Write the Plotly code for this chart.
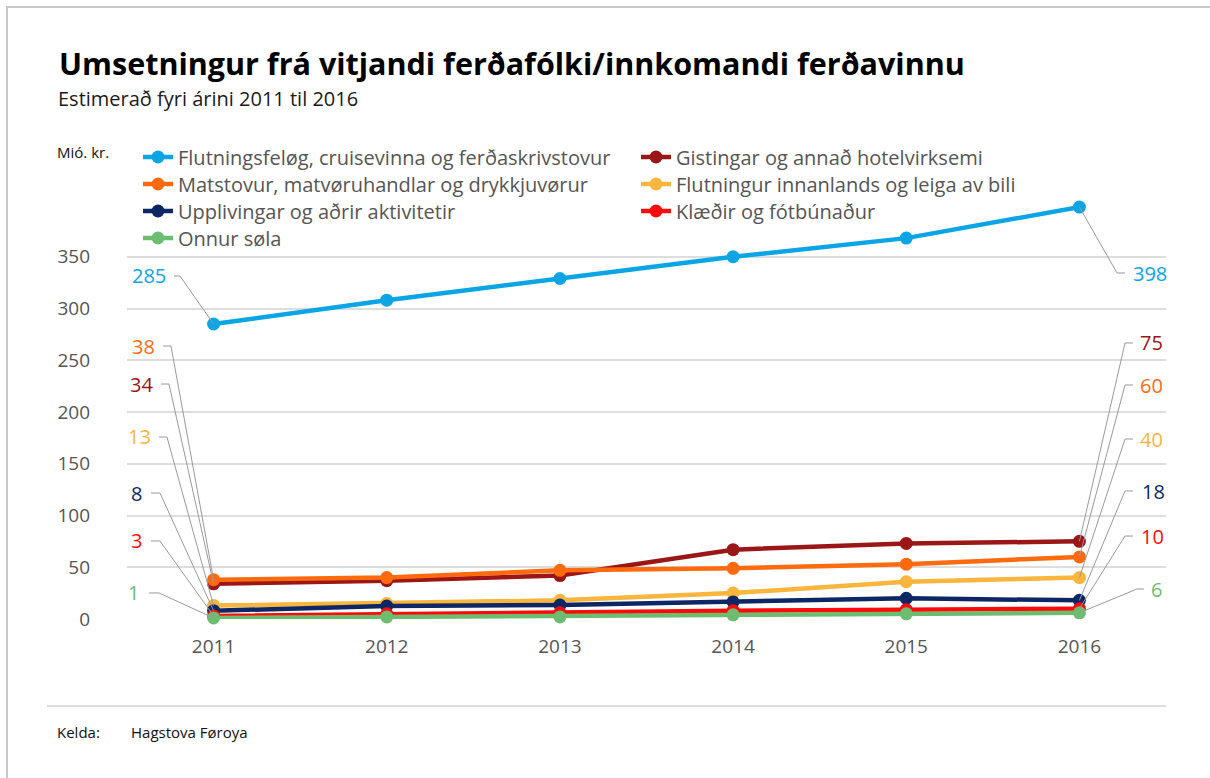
import plotly.graph_objects as go

# ---------------- data ----------------
years = [2011, 2012, 2013, 2014, 2015, 2016]

series_names = [
    "Flutningsfeløg, cruisevinna og ferðaskrivstovur",
    "Gistingar og annað hotelvirksemi",
    "Matstovur, matvøruhandlar og drykkjuvørur",
    "Flutningur innanlands og leiga av bili",
    "Upplivingar og aðrir aktivitetir",
    "Klæðir og fótbúnaður",
    "Onnur søla",
]

flutningsfelog = [285, 308, 329, 350, 368, 398]
gistingar = [34, 37, 42, 67, 73, 75]
matstovur = [38, 40, 47, 49, 53, 60]
flutningur_innanlands = [13, 15, 18, 25, 36, 40]
upplivingar = [8, 12.5, 13.5, 16.5, 20, 18]
klaedir = [3, 5, 6, 8, 9, 10]
onnur_sola = [1, 2, 2, 4, 5, 6]

series_values = [flutningsfelog, gistingar, matstovur, flutningur_innanlands,
                 upplivingar, klaedir, onnur_sola]

y_ticks = [0, 50, 100, 150, 200, 250, 300, 350]
x_ticks = years

title_text = "Umsetningur frá vitjandi ferðafólki/innkomandi ferðavinnu"
subtitle_text = "Estimerað fyri árini 2011 til 2016"
unit_text = "Mió. kr."
source_label = "Kelda:"
source_text = "Hagstova Føroya"

# ---------------- style ----------------
colors = ["#0ba5e6", "#9b1616", "#ff6a0f", "#f9b53c", "#0d2765", "#ff0a0a", "#6cbd70"]
legend_rows = ["legend", "legend", "legend2", "legend2", "legend3", "legend3", "legend4"]
legend_row_y = {"legend": 157, "legend2": 184, "legend3": 211, "legend4": 238}
FONT = "Open Sans"

W, H = 1210, 778
ML, MR, MT, MB = 127, 44, 205, 159
X_RANGE = [2010.5, 2016.5]
Y_RANGE = [0, 400]
PW = W - ML - MR
PH = H - MT - MB


def px_x(v):
    return ML + (v - X_RANGE[0]) / (X_RANGE[1] - X_RANGE[0]) * PW


def px_y(v):
    return MT + (Y_RANGE[1] - v) / (Y_RANGE[1] - Y_RANGE[0]) * PH


def paper_x(px):
    return (px - ML) / PW


def paper_y(py):
    return (H - MB - py) / PH


# label layout (pixel positions of label text / leader elbows), per series
left_layout = [  # label_y, text_right, elbow_far, elbow_near
    (276, 167, 174, 180),
    (384, 154, 161, 169),
    (346, 156, 163, 171),
    (437, 152, 159, 167),
    (493, 143, 151, 160),
    (541, 143, 151, 160),
    (593, 140, 149, 159),
]
right_layout = [  # label_y, elbow_near, elbow_far, text_left
    (273, 1117, 1125, 1132),
    (343, 1125, 1133, 1139),
    (385, 1125, 1133, 1139),
    (439, 1125, 1133, 1139),
    (491, 1125, 1133, 1141),
    (536, 1125, 1133, 1140),
    (589, 1137, 1144, 1150),
]

fig = go.Figure()
for name, vals, col, lg in zip(series_names, series_values, colors, legend_rows):
    fig.add_trace(go.Scatter(
        x=years, y=vals, name=name, mode="lines+markers",
        line=dict(color=col, width=4.5),
        marker=dict(color=col, size=13),
        legend=lg,
        cliponaxis=False,
        hoverinfo="x+y+name",
    ))

shapes = []
annotations = []

# page border and footer separator
shapes.append(dict(type="rect", xref="paper", yref="paper",
                   x0=paper_x(7), x1=paper_x(W + 20), y0=paper_y(H + 20), y1=paper_y(7),
                   line=dict(color="#c8c8c8", width=2), layer="below"))
shapes.append(dict(type="line", xref="paper", yref="paper",
                   x0=paper_x(47), x1=paper_x(1166), y0=paper_y(706), y1=paper_y(706),
                   line=dict(color="#dddddd", width=2)))

LEADER = dict(color="#9a9a9a", width=1)
LABEL_FONT = 20

for i, (vals, col) in enumerate(zip(series_values, colors)):
    # left label (first value)
    v0 = vals[0]
    ly, tr, ef, en = left_layout[i]
    ax0, ay0 = px_x(years[0]), px_y(v0)
    path = "M 0 0 L {:.1f} {:.1f} L {:.1f} {:.1f}".format(en - ax0, ay0 - ly, ef - ax0, ay0 - ly)
    shapes.append(dict(type="path", xsizemode="pixel", ysizemode="pixel",
                       xref="x", yref="y", xanchor=years[0], yanchor=v0,
                       path=path, line=LEADER))
    annotations.append(dict(x=years[0], y=v0, xref="x", yref="y", text=str(round(v0)),
                            showarrow=False, xanchor="right", yanchor="middle",
                            xshift=tr - ax0 + 1, yshift=ay0 - ly,
                            font=dict(family=FONT, size=LABEL_FONT, color=col)))
    # right label (last value)
    v1 = vals[-1]
    ry, rn, rf, tl = right_layout[i]
    bx, by = px_x(years[-1]), px_y(v1)
    path = "M 0 0 L {:.1f} {:.1f} L {:.1f} {:.1f}".format(rn - bx, by - ry, rf - bx, by - ry)
    shapes.append(dict(type="path", xsizemode="pixel", ysizemode="pixel",
                       xref="x", yref="y", xanchor=years[-1], yanchor=v1,
                       path=path, line=LEADER))
    annotations.append(dict(x=years[-1], y=v1, xref="x", yref="y", text=str(round(v1)),
                            showarrow=False, xanchor="left", yanchor="middle",
                            xshift=tl - bx - 1, yshift=by - ry,
                            font=dict(family=FONT, size=LABEL_FONT, color=col)))

# titles and footer text
annotations += [
    dict(xref="paper", yref="paper", x=paper_x(57), y=paper_y(63), text="<b>" + title_text + "</b>",
         showarrow=False, xanchor="left", yanchor="middle",
         font=dict(family=FONT, size=30.5, color="#000000")),
    dict(xref="paper", yref="paper", x=paper_x(56), y=paper_y(99), text=subtitle_text,
         showarrow=False, xanchor="left", yanchor="middle",
         font=dict(family=FONT, size=20, color="#1a1a1a")),
    dict(xref="paper", yref="paper", x=paper_x(55), y=paper_y(152), text=unit_text,
         showarrow=False, xanchor="left", yanchor="middle",
         font=dict(family=FONT, size=15, color="#111111")),
    dict(xref="paper", yref="paper", x=paper_x(55), y=paper_y(732), text=source_label,
         showarrow=False, xanchor="left", yanchor="middle",
         font=dict(family=FONT, size=15, color="#111111")),
    dict(xref="paper", yref="paper", x=paper_x(129), y=paper_y(732), text=source_text,
         showarrow=False, xanchor="left", yanchor="middle",
         font=dict(family=FONT, size=15, color="#111111")),
]

legend_common = dict(orientation="h", xanchor="left", yanchor="middle",
                     entrywidth=453, entrywidthmode="pixels",
                     font=dict(family=FONT, size=20, color="#555555"),
                     bgcolor="rgba(0,0,0,0)", traceorder="normal")

fig.update_layout(
    width=W, height=H,
    margin=dict(l=ML, r=MR, t=MT, b=MB, autoexpand=False),
    paper_bgcolor="white", plot_bgcolor="white",
    font=dict(family=FONT, color="#555555"),
    showlegend=True,
    legend=dict(x=paper_x(138), y=paper_y(legend_row_y["legend"]), **legend_common),
    legend2=dict(x=paper_x(138), y=paper_y(legend_row_y["legend2"]), **legend_common),
    legend3=dict(x=paper_x(138), y=paper_y(legend_row_y["legend3"]), **legend_common),
    legend4=dict(x=paper_x(138), y=paper_y(legend_row_y["legend4"]), **legend_common),
    xaxis=dict(range=X_RANGE, tickvals=x_ticks, ticktext=[str(y) for y in x_ticks],
               showgrid=False, zeroline=False, showline=False,
               ticks="", ticklabelstandoff=14,
               tickfont=dict(family=FONT, size=19, color="#555555")),
    yaxis=dict(range=Y_RANGE, tickvals=y_ticks, showgrid=True,
               gridcolor="#dddddd", gridwidth=2, zeroline=False, showline=False,
               ticks="", ticklabelstandoff=36,
               tickfont=dict(family=FONT, size=19, color="#555555")),
    shapes=shapes,
    annotations=annotations,
    hovermode="closest",
)

fig.write_html(
    "out.html",
    config={"displayModeBar": False},
    post_script="document.body.style.margin='0px';document.documentElement.style.overflow='hidden';",
)
